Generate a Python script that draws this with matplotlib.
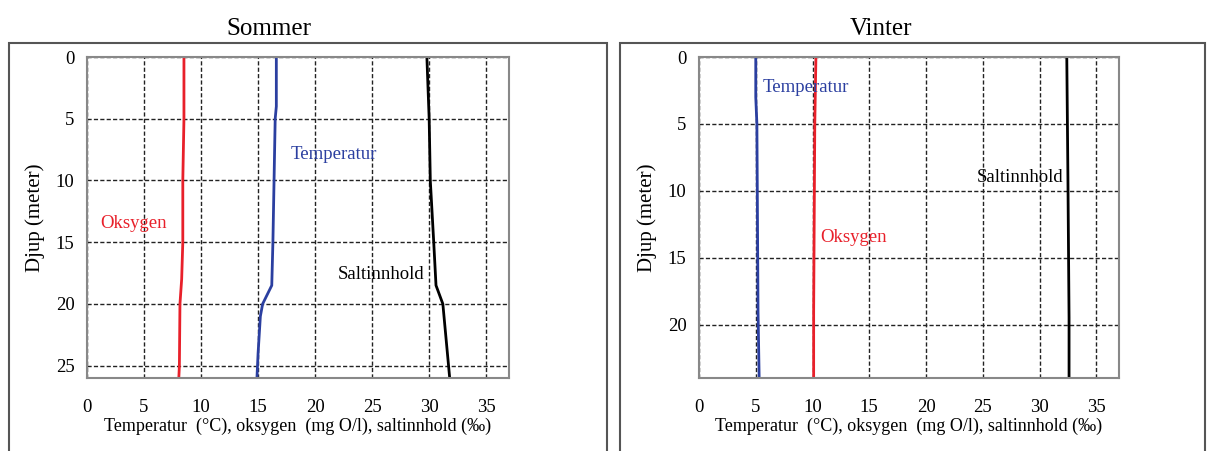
import matplotlib
matplotlib.use("Agg")
import matplotlib.pyplot as plt
from matplotlib.patches import Rectangle

plt.rcParams['font.family'] = ['Liberation Serif', 'DejaVu Serif']

# Sommer data (depth in m)
s_oks_depth = [0, 3, 5, 10, 15, 18, 20, 25, 26]
s_oks = [8.5, 8.5, 8.5, 8.4, 8.4, 8.3, 8.15, 8.1, 8.05]
s_temp_depth = [0, 4, 5, 10, 15, 18.5, 20, 21, 24, 26]
s_temp = [16.6, 16.6, 16.5, 16.4, 16.3, 16.2, 15.4, 15.2, 15.0, 14.9]
s_salt_depth = [0, 5, 10, 15, 18.5, 20, 26]
s_salt = [29.8, 30.0, 30.1, 30.4, 30.6, 31.2, 31.8]

# Vinter data
v_temp_depth = [0, 3, 5, 19, 24]
v_temp = [5.0, 5.0, 5.1, 5.2, 5.3]
v_oks_depth = [0, 5, 19, 24]
v_oks = [10.3, 10.2, 10.1, 10.1]
v_salt_depth = [0, 9, 19.5, 24]
v_salt = [32.4, 32.5, 32.6, 32.6]

xticks = [0, 5, 10, 15, 20, 25, 30, 35]
xlabel = "Temperatur  (°C), oksygen  (mg O/l), saltinnhold (‰)"
ylabel = "Djup (meter)"

fig = plt.figure(figsize=(12.08, 4.51), dpi=100)

# outer frames
fig.patches.append(Rectangle((9/1208, -0.01), (607-9)/1208, 0.915, transform=fig.transFigure,
                             fill=False, edgecolor='#555555', linewidth=1.5))
fig.patches.append(Rectangle((620/1208, -0.01), (1205-620)/1208, 0.915, transform=fig.transFigure,
                             fill=False, edgecolor='#555555', linewidth=1.5))

def setup(ax, ymax, yticks):
    ax.set_xlim(0, 37)
    ax.set_ylim(ymax, 0)
    ax.set_xticks(xticks)
    ax.set_yticks(yticks)
    ax.grid(True, color='#222222', linestyle=(0, (3, 1.6)), linewidth=1.0)
    for sp in ax.spines.values():
        sp.set_color('#888888')
        sp.set_linewidth(1.5)
    ax.tick_params(length=0, labelsize=13.5)
    ax.tick_params(axis='x', pad=15)
    ax.tick_params(axis='y', pad=9)
    ax.set_xlabel(xlabel, fontsize=13, labelpad=1)
    ax.set_ylabel(ylabel, fontsize=15, labelpad=8)

ax1 = fig.add_axes([87/1208, 1-378/451, (509-87)/1208, (378-57)/451])
ax1.plot(s_oks, s_oks_depth, color='#e8202a', lw=2)
ax1.plot(s_temp, s_temp_depth, color='#2b3fa0', lw=2)
ax1.plot(s_salt, s_salt_depth, color='black', lw=2)
setup(ax1, 26, [0, 5, 10, 15, 20, 25])
ax1.text(4.1, 13.5, "Oksygen", color='#e8202a', fontsize=13.5, ha='center', va='center')
ax1.text(21.6, 7.9, "Temperatur", color='#2b3fa0', fontsize=13.5, ha='center', va='center')
ax1.text(25.8, 17.6, "Saltinnhold", color='black', fontsize=13.5, ha='center', va='center')

ax2 = fig.add_axes([699/1208, 1-378/451, (1119-699)/1208, (378-57)/451])
ax2.plot(v_temp, v_temp_depth, color='#2b3fa0', lw=2)
ax2.plot(v_oks, v_oks_depth, color='#e8202a', lw=2)
ax2.plot(v_salt, v_salt_depth, color='black', lw=2)
setup(ax2, 24, [0, 5, 10, 15, 20])
ax2.text(5.6, 2.3, "Temperatur", color='#2b3fa0', fontsize=13.5, ha='left', va='center')
ax2.text(10.7, 13.5, "Oksygen", color='#e8202a', fontsize=13.5, ha='left', va='center')
ax2.text(28.3, 9.0, "Saltinnhold", color='black', fontsize=13.5, ha='center', va='center')

fig.text(269/1208, 1-29/451, "Sommer", fontsize=18, ha='center', va='center')
fig.text(881/1208, 1-29/451, "Vinter", fontsize=18, ha='center', va='center')

fig.savefig("out.png", dpi=100)
